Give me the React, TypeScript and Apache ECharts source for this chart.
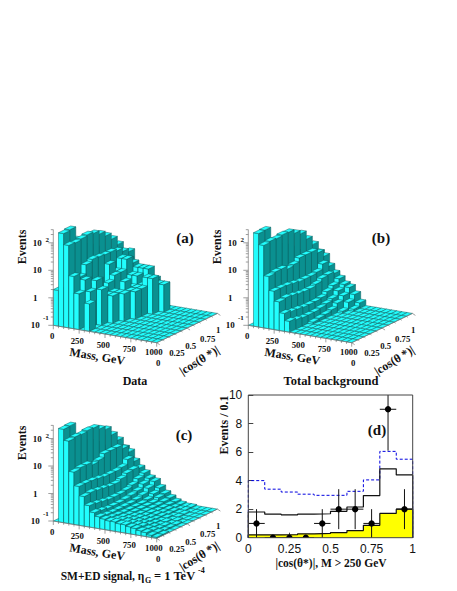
import React, { useEffect, useRef } from "react";
import * as echarts from "echarts";

const FONT = "'Liberation Serif', 'Times New Roman', serif";
const CYAN = "#22fdfd";
const TEAL = "#0a9090";
const EDGE = "#0d5f5f";

// Lego contents: rows are mass bins (50 GeV), columns are |cos| bins (0.1); events per cell
const dataCounts = [
  [2,0,0,0,0,0,0,0,0,0],
  [250,270,90,40,30,20,10,5,3,1],
  [100,95,105,115,100,75,50,30,15,6],
  [8,6,13,16,15,14,14,12,9,7],
  [2,5,3,3,1,7,3,7,5,2],
  [0,2,4,1,2,3,3,7,4,2],
  [1,0,2,1,1,0,0,2,3,1],
  [0,0,0,1,1,2,1,2,3,1],
  [0,0,0,0,1,1,1,1,3,1],
  [0,0,0,0,0,1,1,2,1,0],
  [0,0,0,0,0,0,0,2,1,0],
  [0,0,0,0,0,0,0,0,1,0],
  [0,0,0,0,0,0,0,0,0,0],
  [0,0,0,0,0,0,0,0,0,0],
  [0,0,0,0,0,0,0,0,0,0],
  [0,0,0,0,0,0,0,0,0,0],
  [0,0,0,0,0,0,0,0,0,0],
  [0,0,0,0,0,0,0,0,0,0],
  [0,0,0,0,0,0,0,0,0,0],
  [0,0,0,0,0,0,0,0,0,0],
];
const backgroundCounts = [
  [0,0,0,0,0,0,0,0,0,0],
  [250,260,70,40,30,20,12,8,4,2],
  [100,110,105,115,110,80,60,30,15,6],
  [8,9,9,7,8,11,11,11,8,4.7],
  [2.5,2.5,2.4,2.2,2,2,2,2.2,3.4,2.2],
  [1.1,1.2,1.1,1,0.95,0.95,1.1,1.4,1.5,1.3],
  [0.45,0.4,0.38,0.35,0.35,0.35,0.38,0.5,0.65,0.9],
  [0.25,0.22,0.2,0.2,0.2,0.22,0.25,0.3,0.45,0.6],
  [0,0,0,0.12,0.13,0.14,0.16,0.22,0.32,0.5],
  [0,0,0,0,0,0,0,0.12,0.2,0.3],
  [0,0,0,0,0,0,0,0,0.12,0.16],
  [0,0,0,0,0,0,0,0,0,0],
  [0,0,0,0,0,0,0,0,0,0],
  [0,0,0,0,0,0,0,0,0,0],
  [0,0,0,0,0,0,0,0,0,0],
  [0,0,0,0,0,0,0,0,0,0],
  [0,0,0,0,0,0,0,0,0,0],
  [0,0,0,0,0,0,0,0,0,0],
  [0,0,0,0,0,0,0,0,0,0],
  [0,0,0,0,0,0,0,0,0,0],
];
const signalCounts = [
  [0,0,0,0,0,0,0,0,0,0],
  [250,260,70,40,30,20,12,8,4,2],
  [100,110,105,115,110,80,60,30,15,6],
  [8,9,9,7,8,11,11,11,8,4.7],
  [2.6,2.6,2.5,2.3,2.1,2.1,2.1,2.3,3.5,2.3],
  [1.2,1.3,1.2,1.1,1,1,1.2,1.5,1.6,1.4],
  [0.6,0.55,0.5,0.46,0.46,0.46,0.5,0.6,0.8,1],
  [0.36,0.33,0.3,0.3,0.3,0.32,0.35,0.4,0.55,0.7],
  [0.27,0.25,0.24,0.24,0.24,0.24,0.26,0.3,0.42,0.58],
  [0.24,0.22,0.21,0.2,0.2,0.2,0.2,0.22,0.28,0.36],
  [0.22,0.2,0.19,0.18,0.18,0.18,0.18,0.18,0.22,0.24],
  [0.22,0.2,0.18,0.17,0.16,0.16,0.16,0.16,0.17,0.18],
  [0.2,0.19,0.17,0.16,0.15,0.15,0.14,0.14,0.14,0.14],
  [0.2,0.18,0.16,0.15,0.14,0.14,0.13,0.13,0.12,0.12],
  [0.18,0.17,0.15,0.14,0.13,0.13,0.12,0.12,0.11,0.11],
  [0.17,0.16,0.14,0.13,0.12,0.12,0.11,0.11,0.11,0.11],
  [0.15,0.14,0.13,0.12,0.12,0.11,0.11,0.11,0,0],
  [0.14,0.13,0.12,0.12,0.11,0.11,0,0,0,0],
  [0.12,0.12,0.11,0.11,0.11,0,0,0,0,0],
  [0.11,0.11,0,0,0,0,0,0,0,0],
];

const massTickLabels = ["0", "250", "500", "750", "1000"];
const cosTickLabels = ["0", "0.25", "0.5", "0.75", "1"];

// Panel (d)
const binEdges = [0, 0.1, 0.2, 0.3, 0.4, 0.5, 0.6, 0.7, 0.8, 0.9, 1];
const bgOther = [0.2, 0.2, 0.22, 0.27, 0.3, 0.36, 0.5, 0.87, 1.7, 2.0];
const bgTotal = [1.8, 1.65, 1.6, 1.65, 1.68, 1.85, 2.15, 2.95, 4.83, 4.4];
const smEd = [4.0, 3.4, 3.2, 3.05, 2.97, 2.97, 3.25, 4.05, 6.05, 5.5];
const dataCenters = [0.05, 0.15, 0.25, 0.35, 0.45, 0.55, 0.65, 0.75, 0.85, 0.95];
const dataY = [1, 0, 0, 0, 1, 2, 2, 1, 9, 2];
const dataLow = [0, 0, 0, 0, 0, 0.6, 0.6, 0, 6.1, 0.6];
const dataHigh = [2, 0, 0, 0, 2, 3.4, 3.4, 2, 11, 3.4];

// Oblique projection of a lego panel
const MX = 103.4, MY = 17.4, CX = 60.7, CY = -29.3, DEC = 27.5;
const project = (o: number[], mass: number, cos: number, lg: number) => [
  o[0] + (mass / 1000) * MX + cos * CX,
  o[1] + (mass / 1000) * MY + cos * CY - (lg + 1) * DEC,
];

function legoSeries(counts: number[][], o: number[]) {
  const rows: number[][] = [];
  for (let j = 9; j >= 0; j--) {
    for (let k = 0; k < 20; k++) rows.push([k, j, counts[k][j]]);
  }
  return {
    type: "custom",
    coordinateSystem: "cartesian2d",
    xAxisIndex: 0,
    yAxisIndex: 0,
    silent: true,
    clip: false,
    encode: { x: 0, y: 1 },
    data: rows,
    renderItem: (_p: any, api: any) => {
      const k = api.value(0), j = api.value(1), v = api.value(2);
      const lg = v > 0.1 ? Math.log10(v) : -1;
      const m0 = k * 50, m1 = m0 + 50, c0 = j / 10, c1 = c0 + 0.1;
      const P = (m: number, c: number, l: number) => api.coord(project(o, m, c, l));
      const style = (fill: string) => ({ fill, stroke: EDGE, lineWidth: 0.5 });
      const children: any[] = [];
      if (lg > -1) {
        children.push({
          type: "polygon",
          shape: { points: [P(m0, c0, -1), P(m1, c0, -1), P(m1, c0, lg), P(m0, c0, lg)] },
          style: style(CYAN),
        });
        children.push({
          type: "polygon",
          shape: { points: [P(m1, c0, -1), P(m1, c1, -1), P(m1, c1, lg), P(m1, c0, lg)] },
          style: style(TEAL),
        });
      }
      children.push({
        type: "polygon",
        shape: { points: [P(m0, c0, lg), P(m1, c0, lg), P(m1, c1, lg), P(m0, c1, lg)] },
        style: style(CYAN),
      });
      return { type: "group", children };
    },
  };
}

function legoAxes(o: number[]) {
  const g: any[] = [];
  const ln = (a: number[], b: number[], w = 0.7) => ({
    type: "line",
    shape: { x1: a[0], y1: a[1], x2: b[0], y2: b[1] },
    style: { stroke: "#777", lineWidth: w },
    z: 20,
  });
  const txt = (text: string, x: number, y: number, size = 9, rotation = 0, align = "center") => ({
    type: "text",
    x,
    y,
    rotation,
    z: 21,
    style: {
      text,
      x: 0,
      y: 0,
      align,
      verticalAlign: "middle",
      font: `bold ${size}px ${FONT}`,
      fill: "#111",
    },
  });
  const base = project(o, 0, 0, -1);
  const top = project(o, 0, 0, 2.48);
  g.push(ln(base, top));
  for (let d = -1; d <= 2; d++) {
    for (let n = 1; n < 10; n++) {
      const l = d + Math.log10(n);
      if (l > 2.48) continue;
      const p = project(o, 0, 0, l);
      g.push(ln(p, [p[0] - (n === 1 ? 5 : 2.5), p[1]]));
    }
  }
  const mEnd = project(o, 1000, 0, -1);
  const cEnd = project(o, 1000, 1, -1);
  g.push(ln(base, mEnd), ln(mEnd, cEnd));
  for (let m = 0; m <= 1000; m += 50) {
    const p = project(o, m, 0, -1);
    g.push(ln(p, [p[0], p[1] + (m % 250 === 0 ? 4 : 2)]));
  }
  for (let c = 0; c <= 10; c++) {
    const p = project(o, 1000, c / 10, -1);
    g.push(ln(p, [p[0] + (c % 5 === 0 ? 3 : 1.5), p[1] + (c % 5 === 0 ? 2 : 1)]));
  }
  const massOffsets = [[-1, 10.7], [24, 15.4], [50, 19.7], [76, 24], [100.5, 26.8]];
  const cosOffsets = [[105, 37.8], [123.6, 28], [137.4, 20.7], [154.4, 13.2], [165, 4.7]];
  massTickLabels.forEach((s, i) => {
    g.push(txt(s, o[0] + massOffsets[i][0], o[1] + massOffsets[i][1], 8.8));
  });
  cosTickLabels.forEach((s, i) => {
    g.push(txt(s, o[0] + cosOffsets[i][0], o[1] + cosOffsets[i][1], 8.8));
  });
  g.push(txt("10", o[0] - 18, o[1]));
  g.push(txt("-1", o[0] - 7.5, o[1] - 7.5, 7));
  g.push(txt("1", o[0] - 18, o[1] - DEC));
  g.push(txt("10", o[0] - 16, o[1] - 2 * DEC));
  g.push(txt("10", o[0] - 16, o[1] - 3 * DEC));
  g.push(txt("2", o[0] - 6, o[1] - 3 * DEC - 3, 7));
  g.push(txt("Mass, GeV", o[0] + 44, o[1] + 31, 12, -0.165));
  g.push(txt("|cos(θ *)|", o[0] + 146, o[1] + 35, 12, 0.55));
  return g;
}

function labelText(text: string, x: number, y: number, size = 12, rotation = 0, align = "center") {
  return {
    type: "text",
    x,
    y,
    rotation,
    z: 30,
    style: {
      text,
      x: 0,
      y: 0,
      align,
      verticalAlign: "middle",
      font: `bold ${size}px ${FONT}`,
      fill: "#111",
    },
  };
}

const steps = (vals: number[]) => {
  const out: number[][] = [[0, 0]];
  vals.forEach((v, i) => {
    out.push([binEdges[i], v], [binEdges[i + 1], v]);
  });
  out.push([1, 0]);
  return out;
};

export default function App() {
  const ref = useRef<HTMLDivElement>(null);
  useEffect(() => {
    const chart = echarts.init(ref.current!, undefined, { renderer: "svg" });
    const originA = [53.3, 325.3], originB = [248.3, 325.3], originC = [53.3, 521];
    const rotV = Math.PI / 2;
    chart.setOption({
      animation: false,
      backgroundColor: "#fff",
      grid: [
        { left: 0, top: 0, width: 457, height: 591, show: false },
        { left: 248.3, top: 395, width: 164.4, height: 142.7, show: true, borderColor: "#444", borderWidth: 1, z: 5 },
      ],
      xAxis: [
        { type: "value", gridIndex: 0, min: 0, max: 457, show: false },
        {
          type: "value",
          gridIndex: 1,
          min: 0,
          max: 1,
          interval: 0.25,
          splitLine: { show: false },
          axisLine: { show: false },
          axisTick: { inside: true, length: 5, lineStyle: { color: "#444" } },
          axisLabel: {
            margin: 5,
            font: `bold 12px ${FONT}`,
            color: "#111",
            formatter: (v: number) => String(v),
          },
        },
      ],
      yAxis: [
        { type: "value", gridIndex: 0, min: 0, max: 591, inverse: true, show: false },
        {
          type: "value",
          gridIndex: 1,
          min: 0,
          max: 10,
          interval: 2,
          splitLine: { show: false },
          axisLine: { show: false },
          axisTick: { inside: true, length: 5, lineStyle: { color: "#444" } },
          axisLabel: { margin: 6, font: `bold 12px ${FONT}`, color: "#111" },
        },
      ],
      graphic: [
        ...legoAxes(originA),
        ...legoAxes(originB),
        ...legoAxes(originC),
        labelText("Events", 21.7, 247, 12, rotV),
        labelText("Events", 216.7, 247, 12, rotV),
        labelText("Events", 21.7, 443, 12, rotV),
        labelText("Events / 0.1", 224, 425, 12, rotV),
        labelText("(a)", 185, 238, 15),
        labelText("(b)", 381, 238, 15),
        labelText("(c)", 184, 435, 15),
        labelText("(d)", 377, 430, 15),
        labelText("Data", 135, 381, 12),
        labelText("Total background", 331, 381, 12.5),
        labelText("SM+ED signal, η", 60.7, 576, 11.5, 0, "left"),
        labelText("G", 145, 580, 8, 0, "left"),
        labelText("= 1 TeV", 154, 576, 12.5, 0, "left"),
        labelText("-4", 198, 570.5, 8, 0, "left"),
        labelText("|cos(θ*)|, M > 250 GeV", 331, 563, 11.5),
      ],
      series: [
        legoSeries(dataCounts, originA),
        legoSeries(backgroundCounts, originB),
        legoSeries(signalCounts, originC),
        {
          type: "line",
          xAxisIndex: 1,
          yAxisIndex: 1,
          data: steps(bgOther),
          showSymbol: false,
          silent: true,
          lineStyle: { color: "#111", width: 1.2 },
          areaStyle: { color: "#ffff00", opacity: 1 },
          z: 2,
        },
        {
          type: "line",
          xAxisIndex: 1,
          yAxisIndex: 1,
          data: steps(smEd),
          showSymbol: false,
          silent: true,
          lineStyle: { color: "#0000e0", width: 1, type: [3, 2] },
          z: 3,
        },
        {
          type: "line",
          xAxisIndex: 1,
          yAxisIndex: 1,
          data: steps(bgTotal),
          showSymbol: false,
          silent: true,
          lineStyle: { color: "#111", width: 1.2 },
          z: 3,
        },
        {
          type: "custom",
          xAxisIndex: 1,
          yAxisIndex: 1,
          clip: true,
          silent: true,
          z: 4,
          encode: { x: 0, y: 1 },
          data: dataCenters.map((x, i) => [x, dataY[i], dataLow[i], dataHigh[i]]),
          renderItem: (_p: any, api: any) => {
            const x = api.value(0), y = api.value(1);
            const c = api.coord([x, y]);
            const lo = api.coord([x, api.value(2)]);
            const hi = api.coord([x, api.value(3)]);
            const l = api.coord([x - 0.05, y]);
            const r = api.coord([x + 0.05, y]);
            const s = { stroke: "#111", lineWidth: 1 };
            return {
              type: "group",
              children: [
                { type: "line", shape: { x1: lo[0], y1: lo[1], x2: hi[0], y2: hi[1] }, style: s },
                { type: "line", shape: { x1: l[0], y1: l[1], x2: r[0], y2: r[1] }, style: s },
                { type: "circle", shape: { cx: c[0], cy: c[1], r: 3.2 }, style: { fill: "#000" } },
              ],
            };
          },
        },
      ],
    });
    return () => chart.dispose();
  }, []);
  return <div ref={ref} style={{ position: "absolute", left: 0, top: 0, width: 457, height: 591 }} />;
}
